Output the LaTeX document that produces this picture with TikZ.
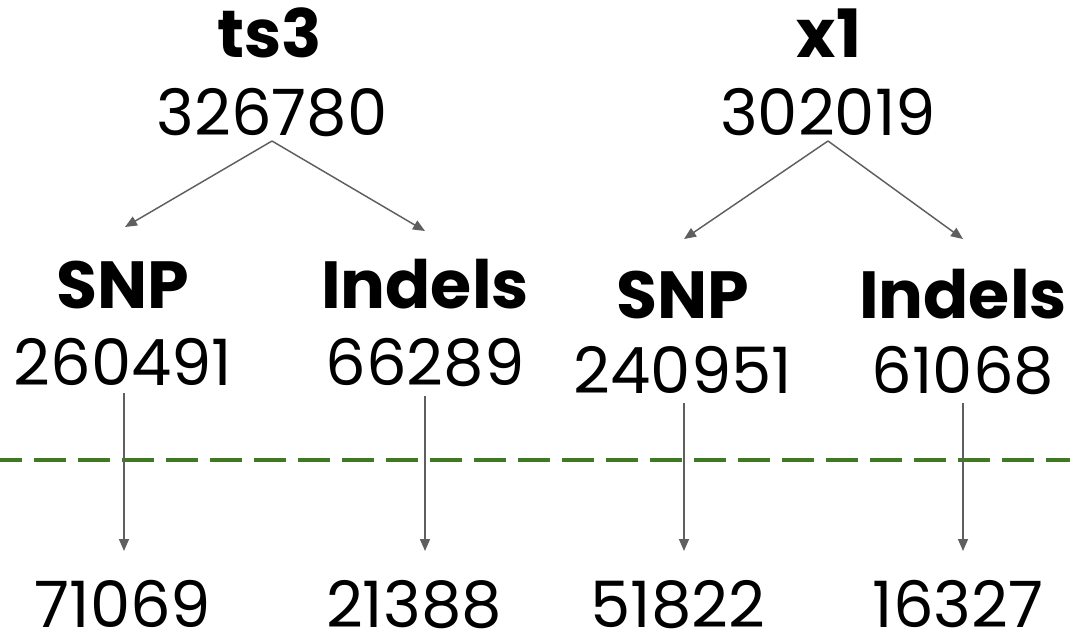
\documentclass[tikz,border=0pt]{standalone}
\usepackage{fontspec}
\setmainfont{Poppins}
\usetikzlibrary{arrows.meta}
\definecolor{arrowgray}{HTML}{5F5F5F}
\definecolor{dashgreen}{HTML}{3F7A22}
\tikzset{
  num/.style={anchor=base, inner sep=0pt, font=\fontsize{48}{50}\selectfont},
  lbl/.style={anchor=base, inner sep=0pt, font=\fontsize{50}{52}\selectfont\bfseries},
  conn/.style={draw=arrowgray, line width=1.1pt, -{Triangle[length=9pt,width=7.5pt]}},
  sep/.style={draw=dashgreen, line width=3pt, dash pattern=on 24pt off 9pt, dash phase=7.5pt}
}
\begin{document}
\begin{tikzpicture}[x=0.75pt,y=-0.75pt]
\useasboundingbox (0,0) rectangle (1070,636);
% top level
\node[lbl] (ts3) at (270,57) {ts3};
\node[num] (ts3n) at (272,135) {326780};
\node[lbl] (x1) at (829,57) {x1};
\node[num] (x1n) at (828,135) {302019};
% second level
\node[lbl] (snpA) at (123,308) {SNP};
\node[num] (snpAn) at (123,385) {260491};
\node[lbl] (indA) at (425,308) {Indels};
\node[num] (indAn) at (425,385) {66289};
\node[lbl] (snpB) at (683,318) {SNP};
\node[num] (snpBn) at (683,393) {240951};
\node[lbl] (indB) at (963,318) {Indels};
\node[num] (indBn) at (963,393) {61068};
% bottom
\node[num] (botA) at (123,627) {71069};
\node[num] (botB) at (414,627) {21388};
\node[num] (botC) at (678,627) {51822};
\node[num] (botD) at (958,627) {16327};
% connector points
\coordinate (ts3s) at (272,141);
\coordinate (snpAt) at (125,227);
\coordinate (indAt) at (425,231);
\coordinate (x1s) at (828,141);
\coordinate (snpBt) at (684,239);
\coordinate (indBt) at (963,239);
\coordinate (snpAb) at (124,393);
\coordinate (indAb) at (425,396);
\coordinate (snpBb) at (684,403);
\coordinate (indBb) at (963,403);
\coordinate (botAt) at (124,551);
\coordinate (botBt) at (425,551);
\coordinate (botCt) at (684,551);
\coordinate (botDt) at (963,551);
\coordinate (dl) at (0,460);
\coordinate (dr) at (1070,460);
% dashed separator
\draw[sep] (dl) -- (dr);
% connectors
\draw[conn] (ts3s) -- (snpAt);
\draw[conn] (ts3s) -- (indAt);
\draw[conn] (x1s) -- (snpBt);
\draw[conn] (x1s) -- (indBt);
\draw[conn] (snpAb) -- (botAt);
\draw[conn] (indAb) -- (botBt);
\draw[conn] (snpBb) -- (botCt);
\draw[conn] (indBb) -- (botDt);
\end{tikzpicture}
\end{document}
